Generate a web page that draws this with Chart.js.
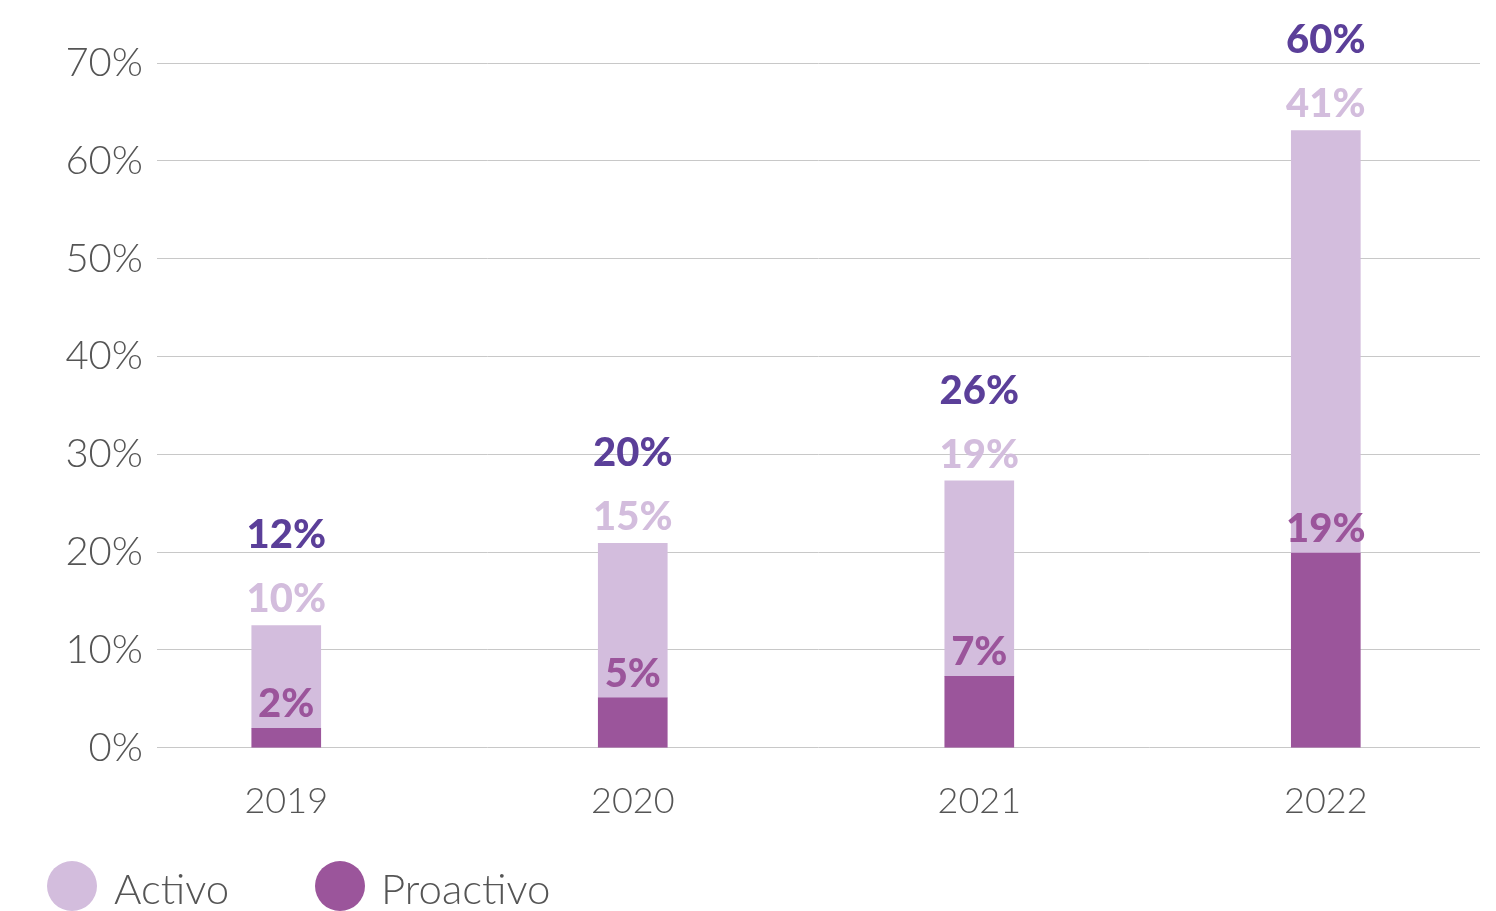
<!DOCTYPE html>
<html>
<head>
<meta charset="utf-8">
<script src="https://cdn.jsdelivr.net/npm/chart.js@4"></script>
<style>
  html, body { margin: 0; padding: 0; background: #fff; }
  #wrap { width: 1496px; height: 911px; }
</style>
</head>
<body>
<div id="wrap"><canvas id="myChart"></canvas></div>
<script>
let years = [2019, 2020, 2021, 2022];
let proactivo = [2.0, 5.1, 7.3, 19.9];
let activo = [10.5, 15.8, 20.0, 43.2];
let proactivoLabels = ['2%', '5%', '7%', '19%'];
let activoLabels = ['10%', '15%', '19%', '41%'];
let totalLabels = ['12%', '20%', '26%', '60%'];
let yTicks = [0, 10, 20, 30, 40, 50, 60, 70];

let ctx = document.getElementById("myChart");
let font = "Lato, 'Open Sans', sans-serif";

// labels above each segment
let barLabels = {
    id: 'barLabels',
    afterDatasetsDraw(chart) {
        let c = chart.ctx;
        let metaP = chart.getDatasetMeta(0);
        let metaA = chart.getDatasetMeta(1);
        c.save();
        c.font = '900 40px ' + font;
        c.textAlign = 'center';
        c.textBaseline = 'middle';
        years.forEach(function (yr, i) {
            let p = metaP.data[i];
            let a = metaA.data[i];
            c.fillStyle = '#9b559b';
            c.fillText(proactivoLabels[i], p.x, p.y - 24);
            c.fillStyle = '#d3bddd';
            c.fillText(activoLabels[i], a.x, a.y - 26);
            c.fillStyle = '#5b3f99';
            c.fillText(totalLabels[i], a.x, a.y - 90);
        });
        c.restore();
    }
};

// legend with round markers, bottom left
let blobLegend = {
    id: 'blobLegend',
    afterDraw(chart) {
        let c = chart.ctx;
        let items = [
            { ds: chart.data.datasets[1], cx: 72, tx: 114 },
            { ds: chart.data.datasets[0], cx: 340, tx: 381 }
        ];
        c.save();
        c.font = '300 42px ' + font;
        c.textBaseline = 'middle';
        c.textAlign = 'left';
        items.forEach(function (it) {
            c.fillStyle = it.ds.backgroundColor;
            c.beginPath();
            c.arc(it.cx, 886, 25, 0, Math.PI * 2);
            c.fill();
            c.fillStyle = '#555';
            c.fillText(it.ds.label, it.tx, 890);
        });
        c.restore();
    }
};

new Chart(ctx, {
    type: 'bar',
    data: {
        datasets: [{
            label: 'Proactivo',
            data: years.map((y, i) => ({ x: y, y: proactivo[i] })),
            backgroundColor: '#9b559b',
            barThickness: 69
        }, {
            label: 'Activo',
            data: years.map((y, i) => ({ x: y, y: activo[i] })),
            backgroundColor: '#d3bddd',
            barThickness: 69
        }]
    },
    options: {
        responsive: true,
        maintainAspectRatio: false,
        animation: false,
        layout: { padding: { top: 63, right: 16, left: 0, bottom: 64 } },
        plugins: {
            tooltip: { enabled: false },
            legend: { display: false }
        },
        scales: {
            x: {
                type: 'linear',
                stacked: true,
                offset: false,
                min: 2018.627,
                max: 2022.445,
                grid: { display: false },
                border: { display: false },
                afterBuildTicks: function (scale) {
                    scale.ticks = years.map(v => ({ value: v }));
                },
                ticks: {
                    color: '#555',
                    padding: 24,
                    font: { family: font, size: 36, weight: '300' },
                    callback: v => String(v)
                }
            },
            y: {
                stacked: true,
                min: 0,
                max: 70,
                afterBuildTicks: function (scale) {
                    scale.ticks = yTicks.map(v => ({ value: v }));
                },
                afterFit: function (scale) { scale.width = 157; },
                grid: { color: '#c8c8c8', lineWidth: 1, drawTicks: false },
                border: { display: false },
                ticks: {
                    color: '#555',
                    padding: 14,
                    font: { family: font, size: 40, weight: '300' },
                    callback: v => v + '%'
                }
            }
        }
    },
    plugins: [barLabels, blobLegend]
});
</script>
</body>
</html>
